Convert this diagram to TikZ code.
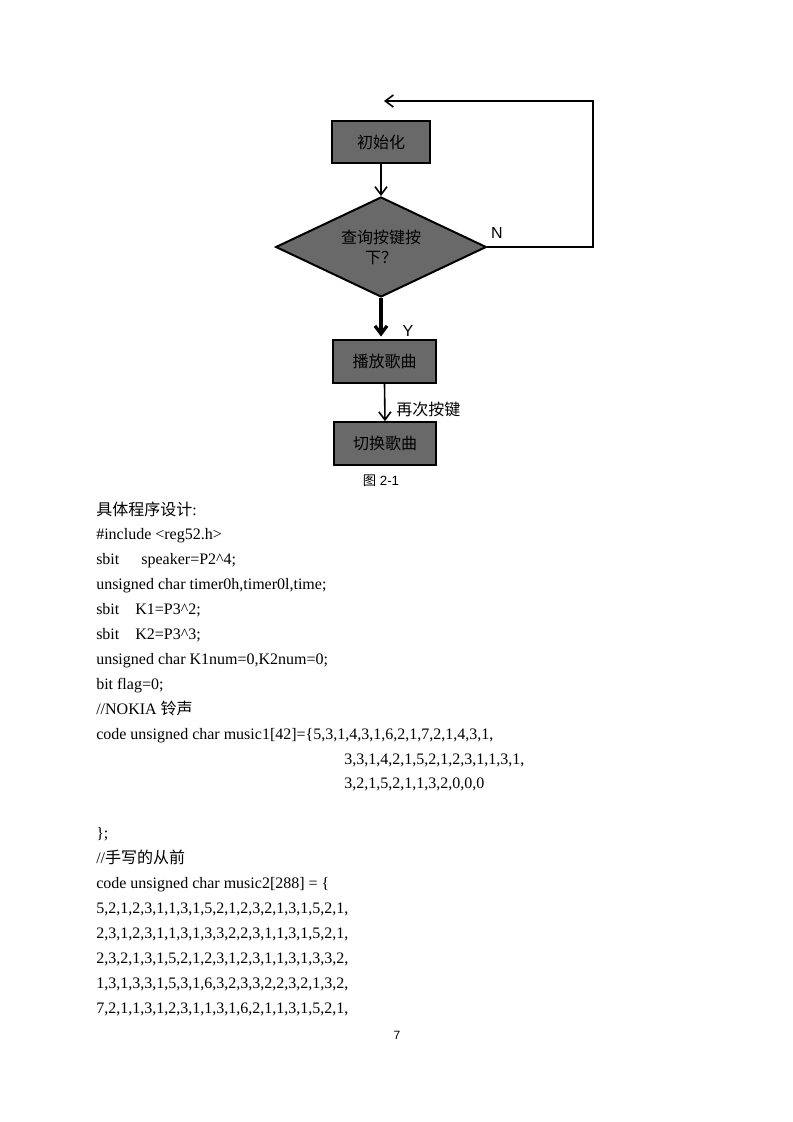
\documentclass[tikz,border=0pt]{standalone}
\usepackage{fontspec}
\setmainfont{Liberation Serif}
\setsansfont{Liberation Sans}
\newfontfamily\cjk{Noto Sans CJK SC}
\usetikzlibrary{shapes.geometric,arrows.meta,positioning}
\definecolor{boxgray}{RGB}{105,105,105}

\begin{document}
\begin{tikzpicture}[x=0.75pt, y=-0.75pt,
    flowbox/.style={draw, line width=1.5pt, fill=boxgray, minimum height=32pt, inner sep=0pt, font=\cjk\fontsize{12}{14}\selectfont},
    querybox/.style={diamond, aspect=2.1, draw, line width=1.5pt, fill=boxgray, minimum width=158pt, minimum height=75pt, inner sep=0pt, align=center, font=\cjk\fontsize{12}{15}\selectfont},
    flow/.style={line width=1.2pt, -{Straight Barb[length=6pt, width=9pt]}},
    tag/.style={inner sep=0pt, font=\sffamily\fontsize{12}{14}\selectfont},
    codeline/.style={anchor=base west, inner sep=0pt, font=\fontsize{12}{14}\selectfont}]
    \useasboundingbox[fill=white] (0,0) rectangle (793,1122);

    % Flow chart
    \node[flowbox, minimum width=74pt] (init) at (381,142) {初始化};
    \node[querybox] (query) at (381,247) {查询按键按\\下？};
    \node[flowbox, minimum width=77pt] (play) at (384.5,361.5) {播放歌曲};
    \node[flowbox, minimum width=77pt] (switch) at (385,443.5) {切换歌曲};

    % Connectors
    \draw[flow] (init.south) -- (query.north);
    \draw[flow, line width=2.4pt, shorten >=2pt] (query.south) -- (query.south |- play.north);
    \draw[flow] (play.south) -- node[pos=0.68, right=8pt, inner sep=0pt, font=\cjk\fontsize{12}{14}\selectfont] (again) {再次按键} (switch.north);

    % Loop back when no key
    \coordinate (loopright) at (593,101);
    \coordinate (loopend) at (384,101);
    \draw[flow] (query.east) -- (query.east -| loopright) -- (loopright) -- (loopend);
    \node[tag] (no) at (497,233) {N};
    \node[tag] (yes) at (408,331) {Y};

    % Caption
    \node[inner sep=0pt, font=\sffamily\fontsize{10}{12}\selectfont] (caption) at (381,481) {{\cjk 图} 2-1};

    % Program text
    \node[codeline] (code0) at (96,515) {{\cjk 具体程序设计}:};
    \node[codeline] (code1) at (96,539.9) {\#include <reg52.h>};
    \node[codeline] (code2) at (96,564.8) {sbit\hspace*{16.5pt}speaker=P2\textasciicircum 4;};
    \node[codeline] (code3) at (96,589.7) {unsigned char timer0h,timer0l,time;};
    \node[codeline] (code4) at (96,614.6) {sbit\hspace*{12pt}K1=P3\textasciicircum 2;};
    \node[codeline] (code5) at (96,639.5) {sbit\hspace*{12pt}K2=P3\textasciicircum 3;};
    \node[codeline] (code6) at (96,664.4) {unsigned char K1num=0,K2num=0;};
    \node[codeline] (code7) at (96,689.3) {bit flag=0;};
    \node[codeline] (code8) at (96,714.2) {//NOKIA {\cjk 铃声}};
    \node[codeline] (code9) at (96,739.1) {code unsigned char music1[42]=\{5,3,1,4,3,1,6,2,1,7,2,1,4,3,1,};
    \node[codeline] (code10) at (344,764) {3,3,1,4,2,1,5,2,1,2,3,1,1,3,1,};
    \node[codeline] (code11) at (344,788.9) {3,2,1,5,2,1,1,3,2,0,0,0};
    \node[codeline] (code12) at (96,838.7) {\};};
    \node[codeline] (code13) at (96,863.6) {//{\cjk 手写的从前}};
    \node[codeline] (code14) at (96,888.5) {code unsigned char music2[288] = \{};
    \node[codeline] (code15) at (96,913.4) {5,2,1,2,3,1,1,3,1,5,2,1,2,3,2,1,3,1,5,2,1,};
    \node[codeline] (code16) at (96,938.3) {2,3,1,2,3,1,1,3,1,3,3,2,2,3,1,1,3,1,5,2,1,};
    \node[codeline] (code17) at (96,963.2) {2,3,2,1,3,1,5,2,1,2,3,1,2,3,1,1,3,1,3,3,2,};
    \node[codeline] (code18) at (96,988.1) {1,3,1,3,3,1,5,3,1,6,3,2,3,3,2,2,3,2,1,3,2,};
    \node[codeline] (code19) at (96,1013) {7,2,1,1,3,1,2,3,1,1,3,1,6,2,1,1,3,1,5,2,1,};

    % Page number
    \node[inner sep=0pt, font=\sffamily\fontsize{9}{11}\selectfont] (pageno) at (397,1035) {7};
\end{tikzpicture}
\end{document}
